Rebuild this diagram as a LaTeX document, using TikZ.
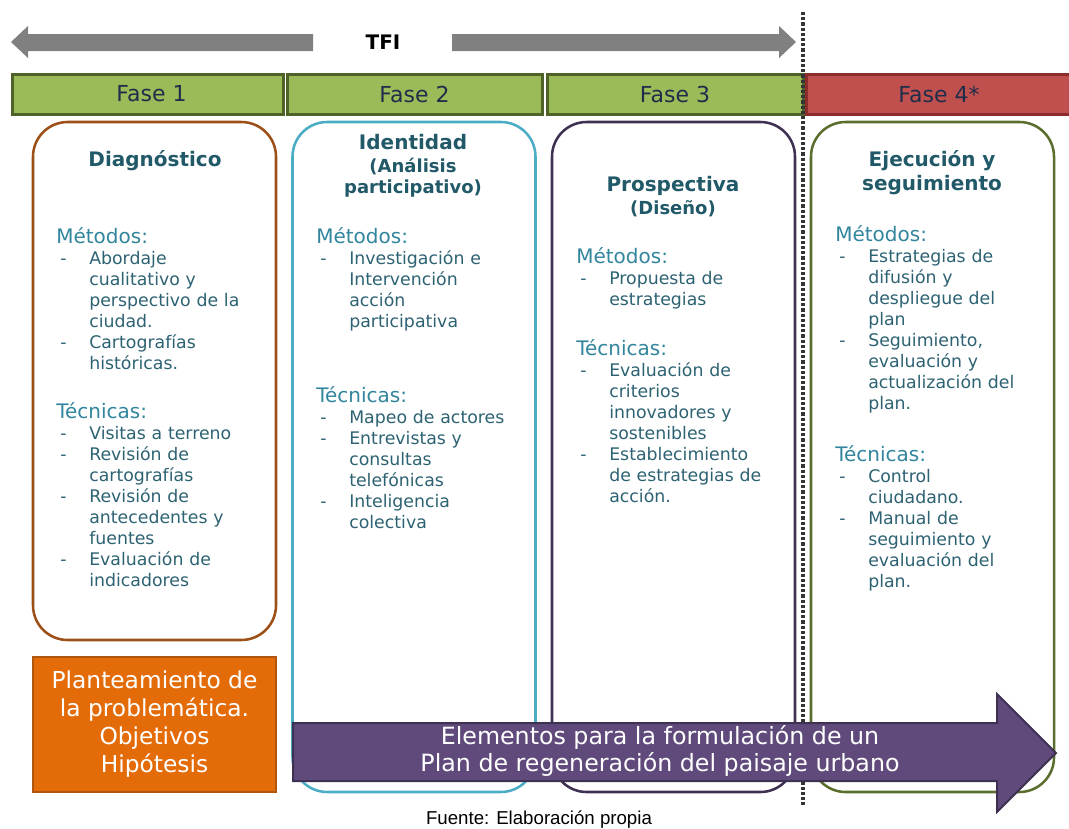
\documentclass[tikz,border=0pt]{standalone}
\usepackage{fontspec}
\setmainfont{DejaVu Sans}
\newfontfamily\arialfont{Liberation Sans}
\usepackage{tikz}
\usetikzlibrary{positioning}

\definecolor{grisflecha}{HTML}{808080}
\definecolor{verdefase}{HTML}{9BBB59}
\definecolor{verdeborde}{HTML}{4F6228}
\definecolor{rojofase}{HTML}{C0504D}
\definecolor{rojoborde}{HTML}{8C2D2B}
\definecolor{textofase}{HTML}{1F2D4A}
\definecolor{bordediag}{HTML}{9C4F17}
\definecolor{bordeiden}{HTML}{4BACC6}
\definecolor{bordepros}{HTML}{3F3151}
\definecolor{bordeejec}{HTML}{5A6E2E}
\definecolor{titcol}{HTML}{215968}
\definecolor{cabcol}{HTML}{31859C}
\definecolor{listacol}{HTML}{2D6272}
\definecolor{naranja}{HTML}{E36C09}
\definecolor{naranjaborde}{HTML}{B0560F}
\definecolor{morado}{HTML}{604A7B}
\definecolor{moradoborde}{HTML}{3F3151}
\definecolor{punteado}{HTML}{353535}

\newcommand{\encab}[1]{{\color{cabcol}\fontsize{15}{15.75}\selectfont #1\par}}
\newcommand{\guion}[1]{\par\hangindent=24.75pt\hangafter=1\noindent\makebox[24.75pt][l]{\hspace{3pt}-}#1\par}

\begin{document}
\begin{tikzpicture}[x=0.75pt, y=-0.75pt,
		caja/.style={draw, line width=1.9pt, rounded corners=26pt, minimum width=182.25pt, inner sep=0pt},
		fase/.style={draw=verdeborde, fill=verdefase, line width=2.25pt, minimum height=30pt, inner sep=0pt, text=textofase, font=\fontsize{16.5}{18}\selectfont},
		titulo/.style={text=titcol, font=\bfseries\fontsize{15}{18}\selectfont, text width=180pt, align=center, inner sep=0pt, anchor=base},
		subtitulo/.style={text=titcol, font=\bfseries\fontsize{13.5}{15.75}\selectfont, text width=180pt, align=center, inner sep=0pt, anchor=base},
		seccion/.style={text=listacol, font=\fontsize{13}{15.75}\selectfont, text width=172pt, align=left, inner sep=0pt, anchor=base west},
		flechagris/.style={fill=grisflecha},
		separador/.style={draw=punteado, line width=2.4pt, dash pattern=on 2.4pt off 1.5pt}
		]
	\useasboundingbox (0,0) rectangle (1069,828);

		% --- Flechas TFI ---
		\fill[flechagris] (11,42) -- (28,26) -- (28,34) -- (313,34) -- (313,51) -- (28,51) -- (28,58) -- cycle;
		\fill[flechagris] (452,34) -- (779,34) -- (779,26) -- (796,42) -- (779,58) -- (779,51) -- (452,51) -- cycle;
		\node[font=\bfseries\fontsize{15}{18}\selectfont] (tfi) at (383,42) {TFI};

		% --- Fases ---
		\node[fase, minimum width=203.25pt] (fase1) at (147.5,94) {\hspace{6pt}Fase 1};
		\node[fase, minimum width=191.25pt] (fase2) at (414.5,94) {Fase 2};
		\node[fase, minimum width=192pt] (fase3) at (675,94) {Fase 3};
		\node[fase, draw=rojoborde, fill=rojofase, minimum width=199.5pt] (fase4) at (939,94) {Fase 4*};

		% Separador punteado
		\coordinate (sepA) at (803,12);
		\coordinate (sepB) at (803,805);
		\draw[separador] (sepA) -- (sepB);

		% --- Cajas ---
		\node[caja, draw=bordediag, minimum height=388.5pt] (caja1) at (154.5,381) {};
		\node[caja, draw=bordeiden, minimum height=502.5pt] (caja2) at (414,457) {};
		\node[caja, draw=bordepros, minimum height=502.5pt] (caja3) at (673.5,457) {};
		\node[caja, draw=bordeejec, minimum height=502.5pt] (caja4) at (932.5,457) {};

		% Diagnóstico
		\node[titulo] (tit1) at (155,166) {Diagnóstico};
		\node[seccion] (met1) at (56,243) {\encab{Métodos:}
			\guion{Abordaje\newline cualitativo y\newline perspectivo de la\newline ciudad.}
			\guion{Cartografías\newline históricas.}};
		\node[seccion] (tec1) at (56,418) {\encab{Técnicas:}
			\guion{Visitas a terreno}
			\guion{Revisión de\newline cartografías}
			\guion{Revisión de\newline antecedentes y\newline fuentes}
			\guion{Evaluación de\newline indicadores}};

		% Identidad
		\node[titulo] (tit2) at (413,149) {Identidad};
		\node[subtitulo] (sub2) at (413,172) {(Análisis\\participativo)};
		\node[seccion] (met2) at (316,243) {\encab{Métodos:}
			\guion{Investigación e\newline Intervención\newline acción\newline participativa}};
		\node[seccion] (tec2) at (316,402) {\encab{Técnicas:}
			\guion{Mapeo de actores}
			\guion{Entrevistas y\newline consultas\newline telefónicas}
			\guion{Inteligencia\newline colectiva}};

		% Prospectiva
		\node[titulo] (tit3) at (673,191) {Prospectiva};
		\node[subtitulo] (sub3) at (673,214) {(Diseño)};
		\node[seccion] (met3) at (576,263) {\encab{Métodos:}
			\guion{Propuesta de\newline estrategias}};
		\node[seccion] (tec3) at (576,355) {\encab{Técnicas:}
			\guion{Evaluación de\newline criterios\newline innovadores y\newline sostenibles}
			\guion{Establecimiento\newline de estrategias de\newline acción.}};

		% Ejecución
		\node[titulo] (tit4) at (932,166) {Ejecución y\\seguimiento};
		\node[seccion] (met4) at (835,241) {\encab{Métodos:}
			\guion{Estrategias de\newline difusión y\newline despliegue del\newline plan}
			\guion{Seguimiento,\newline evaluación y\newline actualización del\newline plan.}};
		\node[seccion] (tec4) at (835,461) {\encab{Técnicas:}
			\guion{Control\newline ciudadano.}
			\guion{Manual de\newline seguimiento y\newline evaluación del\newline plan.}};

		% --- Abajo ---
		\node[draw=naranjaborde, fill=naranja, line width=1.5pt, minimum width=182.25pt, minimum height=101.25pt, text=white, align=center, font=\fontsize{17.5}{21}\selectfont] (plant) at (154.5,724.5) {Planteamiento de\\la problemática.\\Objetivos\\Hipótesis};
		\draw[fill=morado, draw=moradoborde, line width=1.5pt] (293,723) -- (997,723) -- (997,694) -- (1056,753) -- (997,812) -- (997,781) -- (293,781) -- cycle;
		\node[text=white, align=center, font=\fontsize{17.8}{20.25}\selectfont] (elem) at (660,751) {Elementos para la formulación de un\\Plan de regeneración del paisaje urbano};

		\node[font=\arialfont\fontsize{14}{16}\selectfont] (fuente) at (539,820) {Fuente: Elaboración propia};

	\end{tikzpicture}
\end{document}
